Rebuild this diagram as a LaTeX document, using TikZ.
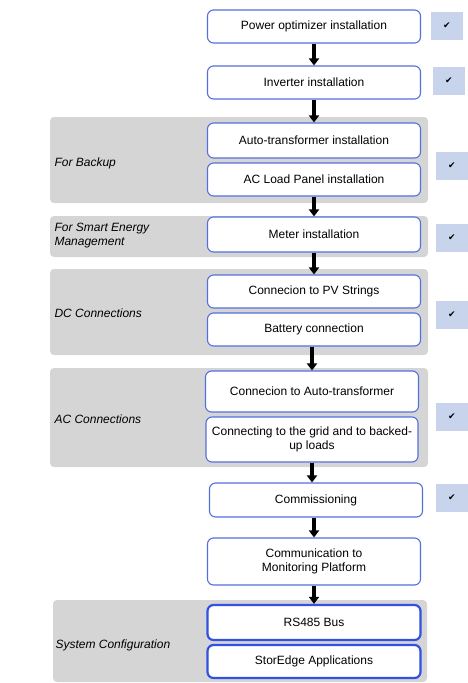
\documentclass[tikz,border=0pt]{standalone}
\usepackage{fontspec}
\setmainfont{Liberation Sans}
\newfontfamily\symfont{DejaVu Sans}
\usetikzlibrary{arrows.meta}
\definecolor{grp}{RGB}{213,213,213}
\definecolor{bord}{RGB}{82,112,222}
\definecolor{bordd}{RGB}{50,80,225}
\definecolor{chk}{RGB}{200,212,236}
\tikzset{
  stepbox/.style={draw=bord, line width=1.1pt, fill=white, rounded corners=6pt,
    minimum width=213pt, align=center, inner sep=2pt,
    font=\fontsize{12}{14}\selectfont},
  thickbox/.style={stepbox, draw=bordd, line width=2.2pt},
  group/.style={fill=grp, draw=none, rounded corners=4pt, inner sep=0pt},
  glabel/.style={anchor=west, align=left, font=\fontsize{12}{14}\selectfont\itshape},
  chkbox/.style={fill=chk, draw=none, minimum width=32pt, minimum height=28pt, inner sep=0pt,
    font=\symfont\fontsize{9}{10}\selectfont},
  flow/.style={line width=3.2pt, -{Triangle[width=10pt,length=7pt]}}
}
\begin{document}
\begin{tikzpicture}[x=1pt,y=-1pt]
\useasboundingbox (0,0) rectangle (467,683);
% groups
\node[group, minimum width=378pt, minimum height=86pt] (g1) at (239,160) {};
\node[group, minimum width=378pt, minimum height=41pt] (g2) at (239,236.5) {};
\node[group, minimum width=378pt, minimum height=86pt] (g3) at (239,312) {};
\node[group, minimum width=378pt, minimum height=99pt] (g4) at (239,417.5) {};
\node[group, minimum width=374pt, minimum height=82pt] (g5) at (240,641) {};
% group labels
\node[glabel] (l1) at (51,163) {For Backup};
\node[glabel] (l2) at (51,236) {For Smart Energy\\Management};
\node[glabel] (l3) at (51,313) {DC Connections};
\node[glabel] (l4) at (51,419) {AC Connections};
\node[glabel] (l5) at (52,645) {System Configuration};
% boxes
\node[stepbox, minimum height=33pt] (b1) at (314,26.5) {Power optimizer installation};
\node[stepbox, minimum height=33pt] (b2) at (314,82.5) {Inverter installation};
\node[stepbox, minimum height=35pt] (b3) at (314,140.5) {Auto-transformer installation};
\node[stepbox, minimum height=33pt] (b4) at (314,179.5) {AC Load Panel installation};
\node[stepbox, minimum height=35pt] (b5) at (314,234.5) {Meter installation};
\node[stepbox, minimum height=33pt] (b6) at (314,291.5) {Connecion to PV Strings};
\node[stepbox, minimum height=33pt] (b7) at (314,329.5) {Battery connection};
\node[stepbox, minimum height=41pt] (b8) at (312,391.5) {Connecion to Auto-transformer};
\node[stepbox, minimum height=45pt, minimum width=212pt] (b9) at (312,439.5) {Connecting to the grid and to backed-\\up loads};
\node[stepbox, minimum height=34pt] (b10) at (316,500) {Commissioning};
\node[stepbox, minimum height=47pt] (b11) at (314,561.5) {Communication to\\Monitoring Platform};
\node[thickbox, minimum height=35pt] (b12) at (314,622.5) {RS485 Bus};
\node[thickbox, minimum height=33pt] (b13) at (314,661.5) {StorEdge Applications};
% arrows
\draw[flow] (b1) -- (b2);
\draw[flow] (b2) -- (b3);
\draw[flow] (b4) -- (b5);
\draw[flow] (b5) -- (b6);
\draw[flow] (b7.south -| b9) -- (b8);
\draw[flow] (b9) -- (b10.north -| b9);
\draw[flow] (b10.south -| b11) -- (b11);
\draw[flow] (b11) -- (b12);
% check boxes
\node[chkbox] (c1) at (447,26) {✔};
\node[chkbox] (c2) at (449,81) {✔};
\node[chkbox] (c3) at (452,166) {✔};
\node[chkbox] (c4) at (452,237.5) {✔};
\node[chkbox] (c5) at (452,315) {✔};
\node[chkbox] (c6) at (452,416.5) {✔};
\node[chkbox] (c7) at (452,497.5) {✔};
\end{tikzpicture}
\end{document}
